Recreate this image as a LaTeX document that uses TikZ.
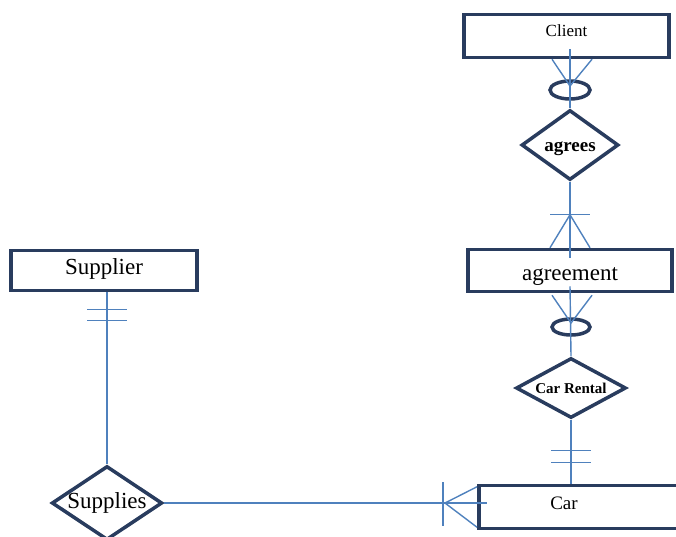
\documentclass[tikz,border=0pt]{standalone}
\usepackage{fontspec}
\setmainfont{Liberation Serif}
\usetikzlibrary{shapes.geometric,calc}

\definecolor{boxnavy}{RGB}{41,60,94}
\definecolor{linkblue}{RGB}{79,129,189}

\tikzset{
  entity/.style={draw=boxnavy, line width=3.5pt, rectangle, inner sep=0pt},
  relation/.style={draw=boxnavy, line width=3.5pt, diamond, inner sep=0pt},
  optional/.style={draw=boxnavy, line width=3.5pt, ellipse, inner sep=0pt},
  link/.style={draw=linkblue, line width=1.4pt},
  bigtext/.style={font=\fontsize{23}{27}\selectfont},
}

\begin{document}
\begin{tikzpicture}[x=1pt,y=-1pt]
\clip (0,0) rectangle (676,536);

% entities
\node[entity, minimum width=205, minimum height=43, text depth=10pt, font=\fontsize{17}{20}\selectfont] (client) at (566.5,36) {Client};
\node[entity, bigtext, minimum width=204, minimum height=42, text height=24pt, text depth=5pt] (agreement) at (570,270.5) {agreement};
\node[entity, bigtext, minimum width=186, minimum height=40, text depth=8pt] (supplier) at (104,270.5) {Supplier};
\node[entity, minimum width=260, minimum height=43, anchor=west] (car) at (477,507) {};
\node[font=\fontsize{19}{22}\selectfont] (cartext) at (564,503) {Car};

% relations
\node[relation, aspect=1.4, minimum width=97, minimum height=70, text height=18pt, font=\fontsize{19}{22}\selectfont\bfseries] (agrees) at (570,145) {agrees};
\node[relation, aspect=1.8, minimum width=110, minimum height=60, font=\fontsize{15}{18}\selectfont\bfseries] (carrental) at (571,388) {Car Rental};
\node[relation, bigtext, aspect=1.5, minimum width=106, minimum height=74] (supplies) at (107,503) {Supplies};

% optional circles
\node[optional, minimum width=40, minimum height=18] (oc) at (570,90) {};
\node[optional, minimum width=38, minimum height=16] (oa) at (571,327) {};

% client -- agrees
\draw[link] ($(oc.center |- client.south)+(0,-10)$) -- (oc.center |- agrees.north);
\draw[link] ($(oc.center |- client.south)+(-18,0)$) -- ($(oc.center)+(0,-4)$) -- ($(oc.center |- client.south)+(22,0)$);

% agrees -- agreement
\draw[link] (agrees.south) -- ($(agreement.north)+(0,10)$);
\draw[link] ($(agreement.north)+(-20,-33)$) -- ($(agreement.north)+(20,-33)$);
\draw[link] ($(agreement.north)+(-20,0)$) -- ($(agreement.north)+(0,-33)$) -- ($(agreement.north)+(20,0)$);

% agreement -- car rental
\draw[link] ($(agreement.south)+(0,-7)$) -- (carrental.north);
\draw[link] ($(agreement.south)+(-18,2)$) -- ($(oa.center)+(0,-4)$) -- ($(agreement.south)+(22,2)$);

% car rental -- car
\draw[link] (carrental.south) -- (carrental.south |- car.north);
\foreach \d in {-33,-21} {
  \draw[link] ($(carrental.south |- car.north)+(-20,\d)$) -- ($(carrental.south |- car.north)+(20,\d)$);
}

% supplier -- supplies
\draw[link] (supplies.north |- supplier.south) -- (supplies.north);
\foreach \d in {17,28} {
  \draw[link] ($(supplies.north |- supplier.south)+(-20,\d)$) -- ($(supplies.north |- supplier.south)+(20,\d)$);
}

% supplies -- car
\draw[link] (supplies.east) -- ($(car.west |- supplies.east)+(10,0)$);
\draw[link] ($(car.west |- supplies.east)+(-34,-21)$) -- ($(car.west |- supplies.east)+(-34,23)$);
\draw[link] ($(car.north west)+(0,3)$) -- ($(car.west |- supplies.east)+(-32,0)$) -- ($(car.south west)+(0,-3)$);

\end{tikzpicture}
\end{document}
